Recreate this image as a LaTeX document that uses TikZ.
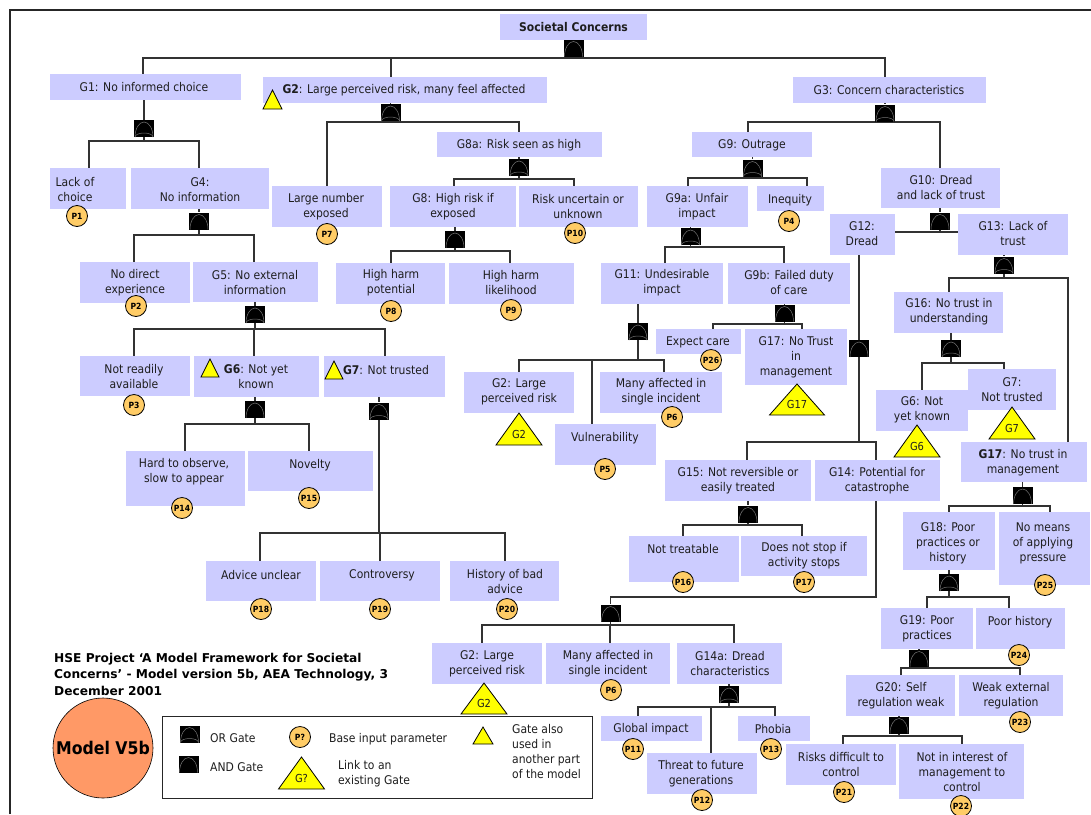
\documentclass[tikz,border=0pt]{standalone}
\usepackage{fontspec}
\setmainfont{DejaVu Sans}[FakeStretch=0.9]
\newfontfamily\titlefont{DejaVu Sans}

\definecolor{boxfill}{RGB}{204,204,255}
\definecolor{parfill}{RGB}{255,204,102}
\definecolor{trifill}{RGB}{255,255,0}
\definecolor{modelfill}{RGB}{255,153,102}
\definecolor{ink}{RGB}{30,30,30}
\definecolor{wirec}{RGB}{50,50,50}

\pgfdeclarelayer{paper}
\pgfdeclarelayer{wires}
\pgfsetlayers{paper,wires,main}

\tikzset{
  box/.style={rectangle, fill=boxfill, draw=none, inner sep=0pt},
  lbl/.style={align=center, inner sep=0pt, text=ink, font=\fontsize{12}{15}\selectfont},
  wire/.style={draw=wirec, line width=1.3pt},
  gatebase/.style={rectangle, fill=black, minimum width=20pt, minimum height=17pt, inner sep=0pt},
  andgate/.style={gatebase, path picture={
      \draw[black!55, line width=0.5pt] ([xshift=1pt]path picture bounding box.south west)
        arc[start angle=180, end angle=0, x radius=9pt, y radius=15pt];}},
  orgate/.style={gatebase, path picture={
      \draw[black!55, line width=0.5pt] ([xshift=1pt]path picture bounding box.south west)
        arc[start angle=180, end angle=0, x radius=9pt, y radius=15pt];
      \draw[black!55, line width=0.5pt] ([xshift=1pt]path picture bounding box.south west)
        arc[start angle=180, end angle=0, x radius=9pt, y radius=4pt];}},
  par/.style={circle, draw=black, line width=0.8pt, fill=parfill, minimum size=21pt,
      inner sep=0pt, text=black, font=\fontsize{8.5}{8.5}\selectfont\bfseries},
  tri/.style={draw=black, line width=0.8pt, fill=trifill, line join=miter},
  trilbl/.style={inner sep=0pt, text=ink, font=\fontsize{11}{11}\selectfont},
}

% box: name, x1, y1, x2, y2, text x, text y, text
\newcommand\bx[8]{%
  \node[box, minimum width={(#4-#2)*1pt}, minimum height={(#5-#3)*1pt}] (#1) at ({(#2+#4)/2},{(#3+#5)/2}) {};
  \node[lbl] (#1-t) at (#6,#7) {#8};
}
% base input parameter: name, x, y, label
\newcommand\pc[4]{\node[par] (#1) at (#2,#3) {#4};}
% gate link triangle: name, apex x, apex y, half width, height, label
\newcommand\tri[6]{%
  \draw[tri] (#2,#3) -- ({#2+#4},{#3+#5}) -- ({#2-#4},{#3+#5}) -- cycle;
  \node[trilbl] (#1) at (#2,{#3+0.66*#5}) {#6};
}
% small marker triangle: apex x, apex y, half width, height
\newcommand\stri[4]{\draw[tri] (#1,#2) -- ({#1+#3},{#2+#4}) -- ({#1-#3},{#2+#4}) -- cycle;}
% parent box to its gate
\newcommand\trunk[2]{\draw[wire] (#2.north |- #1.south) -- (#2.north);}
% gate to its children over a bus at height #2
\newcommand\fan[3]{%
  \foreach \fanx/\fann in {#3}{\draw[wire] (#1.south) |- (\fanx,#2) -- (\fanx,0 |- \fann.north);}
}

\begin{document}
\begin{tikzpicture}[x=1pt, y=-1pt]
\useasboundingbox (0,0) rectangle (1091,814);
\begin{pgfonlayer}{paper}
\fill[white] (0,0) rectangle (1091,814);
\draw[line width=1.6pt, black!85] (10,814) -- (10,10) -- (1091,10);
\end{pgfonlayer}

% ---------- boxes ----------
\bx{sc}{500}{14}{647}{40}{573.5}{27.5}{\textbf{Societal Concerns}}
\bx{g1}{50}{74}{241}{100}{144}{87.5}{G1: No informed choice}
\bx{g2}{263}{77}{547}{103}{404}{90.5}{\textbf{G2}: Large perceived risk, many feel affected}
\bx{g3}{793}{77}{986}{103}{889}{90.5}{G3: Concern characteristics}
\bx{lack}{50}{168}{126}{209}{75}{189.5}{Lack of\\choice}
\bx{g4}{131}{168}{269}{209}{200}{189.5}{G4:\\No information}
\bx{lne}{272}{186}{382}{227}{326}{207}{Large number\\exposed}
\bx{g8a}{437}{132}{602}{157}{519}{145}{G8a: Risk seen as high}
\bx{g8}{390}{186}{516}{227}{453}{207}{G8: High risk if\\exposed}
\bx{ruk}{519}{186}{638}{227}{578}{207}{Risk uncertain or\\unknown}
\bx{g9}{692}{132}{812}{157}{752}{145}{G9: Outrage}
\bx{g9a}{647}{186}{748}{227}{697}{207}{G9a: Unfair\\impact}
\bx{ineq}{757}{186}{824}{211}{790}{200}{Inequity}
\bx{g10}{881}{168}{1000}{208}{941}{188}{G10: Dread\\and lack of trust}
\bx{g12}{830}{214}{895}{255}{862}{234}{G12:\\Dread}
\bx{g13}{958}{214}{1068}{255}{1013}{234}{G13: Lack of\\trust}
\bx{nde}{80}{262}{190}{303}{135}{283}{No direct\\experience}
\bx{g5}{193}{262}{318}{302}{255}{283}{G5: No external\\information}
\bx{hhp}{336}{263}{445}{304}{391}{283}{High harm\\potential}
\bx{hhl}{449}{263}{574}{304}{511}{283}{High harm\\likelihood}
\bx{g11}{601}{263}{723}{304}{662}{283}{G11: Undesirable\\impact}
\bx{g9b}{728}{263}{850}{304}{789}{283}{G9b: Failed duty\\of care}
\bx{g16}{894}{292}{1003}{333}{949}{312}{G16: No trust in\\understanding}
\bx{nra}{80}{356}{190}{396}{134}{377}{Not readily\\available}
\bx{g6}{194}{356}{319}{397}{256}{377}{\textbf{G6}: Not yet\\known}
\bx{g7}{324}{356}{445}{397}{386}{370}{\textbf{G7}: Not trusted}
\bx{ec}{656}{329}{741}{354}{698}{342}{Expect care}
\bx{g17a}{745}{329}{847}{385}{796}{357.5}{G17: No Trust\\in\\management}
\bx{g2b}{464}{372}{574}{413}{519}{392}{G2: Large\\perceived risk}
\bx{mai}{600}{372}{722}{413}{661}{392}{Many affected in\\single incident}
\bx{vul}{555}{424}{656}{465}{605}{438}{Vulnerability}
\bx{g6b}{876}{390}{968}{431}{922}{410}{G6: Not\\yet known}
\bx{g7b}{968}{369}{1056}{410}{1012}{390}{G7:\\Not trusted}
\bx{hto}{126}{451}{245}{506}{184}{472}{Hard to observe,\\slow to appear}
\bx{nov}{248}{451}{373}{491}{310}{465}{Novelty}
\bx{g15}{665}{460}{811}{501}{738}{481}{G15: Not reversible or\\easily treated}
\bx{g14}{815}{460}{940}{501}{877}{481}{G14: Potential for\\catastrophe}
\bx{g17}{961}{442}{1087}{482}{1023}{463}{\textbf{G17}: No trust in\\management}
\bx{g18}{903}{512}{995}{570}{948}{543}{G18: Poor\\practices or\\history}
\bx{nmp}{999}{512}{1090}{585}{1043}{543}{No means\\of applying\\pressure}
\bx{ntr}{629}{536}{739}{582}{683}{549}{Not treatable}
\bx{dns}{741}{536}{867}{576}{804}{556}{Does not stop if\\activity stops}
\bx{adv}{206}{561}{316}{601}{261}{575}{Advice unclear}
\bx{con}{320}{561}{440}{601}{382}{575}{Controversy}
\bx{hba}{450}{561}{559}{601}{505}{582}{History of bad\\advice}
\bx{g19}{881}{608}{973}{649}{927}{629}{G19: Poor\\practices}
\bx{phi}{976}{608}{1065}{649}{1020}{622}{Poor history}
\bx{g2c}{432}{643}{542}{684}{487}{664}{G2: Large\\perceived risk}
\bx{mai2}{546}{643}{670}{684}{608}{664}{Many affected in\\single incident}
\bx{g14a}{677}{643}{782}{684}{730}{664}{G14a: Dread\\characteristics}
\bx{g20}{846}{675}{955}{716}{901}{696}{G20: Self\\regulation weak}
\bx{wer}{959}{675}{1063}{716}{1011}{696}{Weak external\\regulation}
\bx{gim}{601}{716}{702}{741}{651}{729}{Global impact}
\bx{pho}{738}{716}{810}{741}{773}{729}{Phobia}
\bx{ttf}{647}{753}{757}{794}{701}{774}{Threat to future\\generations}
\bx{rdc}{786}{744}{896}{785}{841}{765}{Risks difficult to\\control}
\bx{nim}{899}{744}{1024}{799}{962}{772}{Not in interest of\\management to\\control}

% ---------- gates ----------
\node[andgate] (gsc) at (573.5,48) {};
\node[orgate] (gg1) at (144,128.5) {};
\node[orgate] (gg2) at (390.5,112.5) {};
\node[orgate] (gg3) at (885,113) {};
\node[andgate] (gg4) at (199,221) {};
\node[orgate] (gg8a) at (519,167.5) {};
\node[andgate] (gg8) at (455,239.5) {};
\node[orgate] (gg9) at (752.5,168) {};
\node[orgate] (gg9a) at (690.5,236.5) {};
\node[andgate] (gg10) at (940,221) {};
\node[orgate] (gg5) at (255,314.5) {};
\node[orgate] (gg11) at (638,331.5) {};
\node[andgate] (gg9b) at (784.5,313) {};
\node[orgate] (gg13) at (1004,265) {};
\node[orgate] (gg16) at (951,348.5) {};
\node[andgate] (gg12) at (859,348.5) {};
\node[andgate] (gg6) at (255,409.5) {};
\node[orgate] (gg7) at (379,411) {};
\node[andgate] (gg17) at (1022.5,495.5) {};
\node[andgate] (gg15) at (748,514) {};
\node[orgate] (gg18) at (949,582.5) {};
\node[andgate] (gg14) at (610.5,613) {};
\node[andgate] (gg19) at (919,658) {};
\node[orgate] (gg14a) at (729,694.5) {};
\node[andgate] (gg20) at (899,725) {};

% ---------- connectors (kept beneath boxes and gates) ----------
\begin{pgfonlayer}{wires}
\fan{gsc}{58}{143/g1,391/g2,885/g3}
\trunk{g1}{gg1}  \fan{gg1}{141}{89/lack,199/g4}
\trunk{g4}{gg4}  \fan{gg4}{235}{134/nde,254/g5}
\trunk{g5}{gg5}  \fan{gg5}{329}{134/nra,254/g6,385/g7}
\trunk{g6}{gg6}  \fan{gg6}{424}{185/hto,309/nov}
\trunk{g7}{gg7}  \fan{gg7}{533}{260/adv,380/con,505/hba}
\trunk{g2}{gg2}  \fan{gg2}{122}{327/lne,519/g8a}
\trunk{g8a}{gg8a} \fan{gg8a}{179}{454/g8,574/ruk}
\trunk{g8}{gg8}  \fan{gg8}{251}{391/hhp,510/hhl}
\trunk{g3}{gg3}  \fan{gg3}{122}{748/g9,940/g10}
\trunk{g9}{gg9}  \fan{gg9}{178}{688/g9a,807/ineq}
\trunk{g9a}{gg9a} \fan{gg9a}{247}{665/g11,784/g9b}
\trunk{g11}{gg11} \fan{gg11}{360}{519/g2b,592/vul,664/mai}
\trunk{g9b}{gg9b} \fan{gg9b}{324}{713/ec,802/g17a}
\trunk{g10}{gg10}
\draw[wire] (gg10.south) |- (g12.east |- 0,232);
\draw[wire] (gg10.south) |- (g13.west |- 0,232);
\trunk{g12}{gg12} \fan{gg12}{442}{747/g15,876/g14}
\trunk{g15}{gg15} \fan{gg15}{525}{683/ntr,802/dns}
\draw[wire] (876,0 |- g14.south) -- (876,597) -| (gg14.north);
\fan{gg14}{625}{482/g2c,610/mai2,734/g14a}
\trunk{g14a}{gg14a} \fan{gg14a}{707}{638/gim,711/ttf,775/pho}
\trunk{g13}{gg13} \fan{gg13}{278}{949/g16,1068/g17}
\trunk{g16}{gg16} \fan{gg16}{363}{922/g6b,1004/g7b}
\trunk{g17}{gg17} \fan{gg17}{506}{949/g18,1050/nmp}
\trunk{g18}{gg18} \fan{gg18}{597}{927/g19,1009/phi}
\trunk{g19}{gg19} \fan{gg19}{668}{901/g20,1020/wer}
\trunk{g20}{gg20} \fan{gg20}{736}{843/rdc,962/nim}
\end{pgfonlayer}

% ---------- base input parameters ----------
\pc{p1}{77}{216}{P1}
\pc{p7}{327}{234}{P7}
\pc{p10}{575}{233}{P10}
\pc{p4}{789}{221}{P4}
\pc{p2}{136}{306}{P2}
\pc{p8}{391}{311}{P8}
\pc{p9}{511}{310}{P9}
\pc{p3}{134}{405}{P3}
\pc{p26}{711}{360}{P26}
\pc{p6a}{672}{417}{P6}
\pc{p5}{605}{469}{P5}
\pc{p14}{182}{508}{P14}
\pc{p15}{309}{498}{P15}
\pc{p16}{683}{582}{P16}
\pc{p17}{804}{582}{P17}
\pc{p18}{261}{609}{P18}
\pc{p19}{380}{609}{P19}
\pc{p20}{507}{609}{P20}
\pc{p25}{1045}{585}{P25}
\pc{p24}{1019}{655}{P24}
\pc{p6b}{611}{690}{P6}
\pc{p23}{1020}{722}{P23}
\pc{p11}{633}{749}{P11}
\pc{p13}{771}{749}{P13}
\pc{p12}{702}{800}{P12}
\pc{p21}{844}{792}{P21}
\pc{p22}{961}{806}{P22}

% ---------- links to existing gates ----------
\tri{t-g2b}{519}{413}{23}{32}{G2}
\tri{t-g17a}{797}{384}{27.5}{31}{G17}
\tri{t-g6b}{917}{425}{23}{32}{G6}
\tri{t-g7b}{1012}{407}{23}{32}{G7}
\tri{t-g2c}{484}{683}{23}{31}{G2}
\stri{272.5}{90}{9.5}{19}
\stri{210}{359}{9}{18}
\stri{334}{361}{9}{18}

% ---------- key ----------
\draw[line width=0.8pt, draw=black!85, fill=white] (162,716) rectangle (592,798);
\node[orgate] (k-or) at (189.5,734) {};
\node[lbl, anchor=west] (k-ort) at (210,738) {OR Gate};
\node[andgate] (k-and) at (188.5,764) {};
\node[lbl, anchor=west] (k-andt) at (210,767) {AND Gate};
\node[par] (k-p) at (300,737) {P?};
\node[lbl, anchor=west] (k-pt) at (329,739) {Base input parameter};
\tri{k-g}{301.5}{757}{23}{32}{G?}
\node[lbl, anchor=west, align=left] (k-gt) at (338,774) {Link to an\\existing Gate};
\stri{483}{727}{10}{17}
\node[lbl, anchor=west, align=left] (k-st) at (512,751.5) {Gate also\\used in\\another part\\of the model};

% ---------- title and version ----------
\node[anchor=west, align=left, inner sep=0pt, text=black, font=\titlefont\fontsize{12.2}{16.5}\selectfont\bfseries]
  (title) at (54,674) {HSE Project ‘A Model Framework for Societal\\Concerns’ - Model version 5b, AEA Technology, 3\\December 2001};
\node[circle, draw=black, line width=0.6pt, fill=modelfill, minimum size=100pt, inner sep=0pt,
  text=black, font=\fontsize{17.5}{17.5}\selectfont\bfseries] (model) at (103,748) {Model V5b};
\end{tikzpicture}
\end{document}
